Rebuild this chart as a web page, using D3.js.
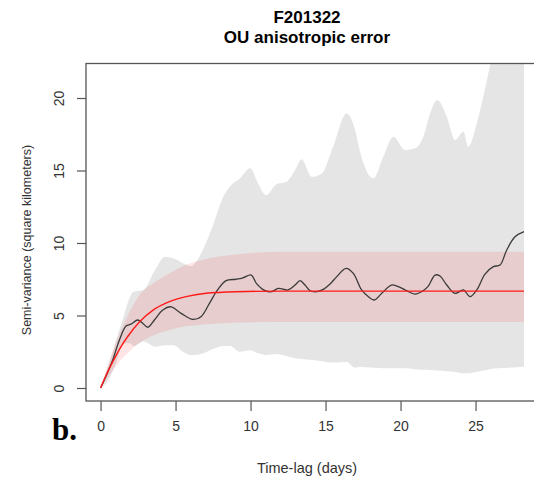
<!DOCTYPE html>
<html>
<head>
<meta charset="utf-8">
<script src="https://cdn.jsdelivr.net/npm/d3@7"></script>
<style>
    body { margin: 0; background: #fff; }
    text { font-family: "Liberation Sans", Arial, sans-serif; }
</style>
</head>
<body>
<div id="wrapper"></div>
<script>
// empirical semi-variogram (black line)
const empT = [0, 0.4, 0.81, 1.25, 1.7, 2.03, 2.48, 2.77, 3.15, 3.59, 4.15, 4.7, 5.37, 6.15, 6.7, 7.26, 7.8, 8.37, 9.03, 9.5,
    10.05, 10.4, 10.97, 11.4, 11.85, 12.5, 12.97, 13.3, 13.63, 13.97, 14.4, 14.85, 15.3, 15.75, 16.37, 16.85, 17.4, 17.86, 18.25,
    18.75, 19.4, 19.97, 20.4, 20.97, 21.5, 21.85, 22.3, 22.63, 23.08, 23.63, 24.19, 24.63, 25.08, 25.63, 26.19, 26.63, 27.08, 27.63, 28.23];
const empV = [0, 0.9, 1.93, 3.3, 4.28, 4.4, 4.69, 4.5, 4.19, 4.69, 5.38, 5.6, 5.15, 4.73, 4.92, 5.84, 6.76, 7.4, 7.5, 7.6,
    7.79, 7.2, 6.71, 6.64, 6.87, 6.76, 7.1, 7.4, 7.1, 6.71, 6.64, 6.8, 7.17, 7.68, 8.25, 7.9, 6.76, 6.3, 6.07,
    6.53, 7.1, 6.94, 6.71, 6.48, 6.71, 7.03, 7.79, 7.72, 7.1, 6.53, 6.76, 6.3, 6.76, 7.86, 8.37, 8.48, 9.52, 10.43, 10.78];

// gray envelope of the empirical variogram
const grayT = [0, 0.5, 1.0, 1.5, 1.97, 2.2, 2.85, 3.63, 4.3, 4.85, 5.5, 6.0, 6.5, 6.86, 7.52, 8.19, 8.63, 9.3, 9.97, 10.5,
    11.03, 11.75, 12.4, 12.97, 13.4, 14.08, 14.75, 15.5, 16.4, 16.97, 17.3, 18.19, 18.85, 19.52, 20.3, 20.97, 21.52, 21.97,
    22.45, 23.08, 23.63, 24.19, 24.52, 25.08, 25.52, 25.97, 26.5, 27.2, 28.23];
const grayHi = [0, 1.5, 3.2, 4.8, 6.3, 6.64, 6.76, 8.14, 9.06, 8.94, 8.6, 8.4, 8.9, 9.6, 11.3, 13.2, 13.9, 14.46, 15.15, 14.1,
    13.3, 14.07, 14.23, 15.03, 15.77, 14.57, 14.8, 16.64, 18.94, 17.8, 16.3, 14.46, 15.95, 17.33, 16.41, 16.53, 17.33, 18.94,
    19.86, 18.7, 17.1, 17.68, 16.64, 18.25, 20.1, 22.3, 25, 27, 28];
const grayLo = [0, 0.5, 1.6, 3.08, 3.08, 2.9, 3.2, 2.85, 2.95, 2.95, 2.5, 2.28, 2.3, 2.39, 2.7, 2.9, 2.9, 2.5, 2.6, 2.39,
    2.28, 2.35, 2.2, 2.05, 2.0, 1.93, 1.85, 1.75, 1.8, 1.4, 1.45, 1.4, 1.36, 1.36, 1.36, 1.3, 1.25, 1.24,
    1.2, 1.15, 1.1, 1.01, 1.02, 1.1, 1.2, 1.3, 1.36, 1.4, 1.47];

// fitted OU model (red line) and its confidence band
const modT = [0, 0.4, 0.81, 1.25, 1.81, 2.59, 3.48, 4.59, 5.7, 7.03, 9.03, 12, 28.23];
const modV = [0, 0.95, 1.8, 2.65, 3.55, 4.55, 5.35, 5.95, 6.3, 6.53, 6.64, 6.68, 6.68];
const modHi = [0, 1.3, 2.5, 3.7, 5.0, 6.4, 7.2, 7.9, 8.5, 8.9, 9.2, 9.4, 9.4];
const modLo = [0, 0.6, 1.2, 1.8, 2.4, 3.1, 3.6, 4.0, 4.25, 4.4, 4.5, 4.55, 4.55];

const xTicks = [0, 5, 10, 15, 20, 25];
const yTicks = [0, 5, 10, 15, 20];

function build() {
    var dimension = {
        width: 534,
        height: 485,
        left: 86,
        right: 545,
        top: 63.5,
        bottom: 401
    };

    const x = d3.scaleLinear()
        .domain([-0.97, 29.63])
        .range([dimension.left, dimension.right]);
    const y = d3.scaleLinear()
        .domain([-0.897, 22.38])
        .range([dimension.bottom, dimension.top]);

    const svg = d3.select("#wrapper")
        .append("svg")
        .attr("width", dimension.width)
        .attr("height", dimension.height);

    svg.append("clipPath")
        .attr("id", "plotclip")
        .append("rect")
        .attr("x", dimension.left)
        .attr("y", dimension.top)
        .attr("width", dimension.right - dimension.left)
        .attr("height", dimension.bottom - dimension.top);

    const plot = svg.append("g").attr("clip-path", "url(#plotclip)");

    const gray = grayT.map((t, i) => ({t, lo: grayLo[i], hi: grayHi[i]}));
    const band = modT.map((t, i) => ({t, lo: modLo[i], hi: modHi[i], v: modV[i]}));
    const emp = empT.map((t, i) => ({t, v: empV[i]}));

    plot.append("path")
        .datum(gray)
        .attr("fill", "#e5e5e5")
        .attr("d", d3.area()
            .x(d => x(d.t))
            .y0(d => y(d.lo))
            .y1(d => y(d.hi))
            .curve(d3.curveMonotoneX));

    plot.append("path")
        .datum(band)
        .attr("fill", "rgba(255,0,0,0.1)")
        .attr("d", d3.area()
            .x(d => x(d.t))
            .y0(d => y(d.lo))
            .y1(d => y(d.hi))
            .curve(d3.curveMonotoneX));

    plot.append("path")
        .datum(emp)
        .attr("fill", "none")
        .attr("stroke", "#3a3a3a")
        .attr("stroke-width", 1.3)
        .attr("d", d3.line()
            .x(d => x(d.t))
            .y(d => y(d.v))
            .curve(d3.curveCatmullRom));

    plot.append("path")
        .datum(band)
        .attr("fill", "none")
        .attr("stroke", "#ff1a1a")
        .attr("stroke-width", 1.4)
        .attr("d", d3.line()
            .x(d => x(d.t))
            .y(d => y(d.v))
            .curve(d3.curveMonotoneX));

    // box
    svg.append("rect")
        .attr("x", dimension.left)
        .attr("y", dimension.top)
        .attr("width", dimension.right - dimension.left)
        .attr("height", dimension.bottom - dimension.top)
        .attr("fill", "none")
        .attr("stroke", "#555")
        .attr("stroke-width", 1.3);

    // x axis
    const xAxis = svg.append("g")
        .attr("transform", `translate(0,${dimension.bottom})`)
        .call(d3.axisBottom(x).tickValues(xTicks).tickSize(10).tickPadding(10));
    xAxis.select(".domain").remove();
    xAxis.selectAll("line").attr("stroke", "#555").attr("stroke-width", 1.2);
    xAxis.selectAll("text")
        .attr("font-size", 14)
        .attr("fill", "#333")
        .style("font-family", "Liberation Sans, Arial, sans-serif");

    // y axis
    const yAxis = svg.append("g")
        .attr("transform", `translate(${dimension.left},0)`)
        .call(d3.axisLeft(y).tickValues(yTicks).tickSize(9).tickFormat(d3.format("d")));
    yAxis.select(".domain").remove();
    yAxis.selectAll("line").attr("stroke", "#555").attr("stroke-width", 1.2);
    yAxis.selectAll("text")
        .attr("x", null)
        .attr("dy", null)
        .attr("font-size", 14)
        .attr("fill", "#333")
        .attr("text-anchor", "middle")
        .style("font-family", "Liberation Sans, Arial, sans-serif")
        .attr("transform", "translate(-27,0) rotate(-90) translate(0,5)");

    // titles
    svg.append("text")
        .attr("x", 307).attr("y", 23)
        .attr("text-anchor", "middle")
        .attr("font-size", 17)
        .attr("font-weight", "bold")
        .text("F201322");
    svg.append("text")
        .attr("x", 307).attr("y", 43)
        .attr("text-anchor", "middle")
        .attr("font-size", 17)
        .attr("font-weight", "bold")
        .text("OU anisotropic error");

    svg.append("text")
        .attr("x", 307).attr("y", 473)
        .attr("text-anchor", "middle")
        .attr("font-size", 14.5)
        .attr("fill", "#333")
        .text("Time-lag (days)");

    svg.append("text")
        .attr("transform", "translate(31,240) rotate(-90)")
        .attr("text-anchor", "middle")
        .attr("font-size", 12.5)
        .attr("fill", "#333")
        .text("Semi-variance (square kilometers)");

    svg.append("text")
        .attr("x", 52).attr("y", 440)
        .attr("font-size", 31)
        .attr("font-weight", "bold")
        .style("font-family", "Liberation Serif, Times New Roman, serif")
        .text("b.");
}
build();
</script>
</body>
</html>
